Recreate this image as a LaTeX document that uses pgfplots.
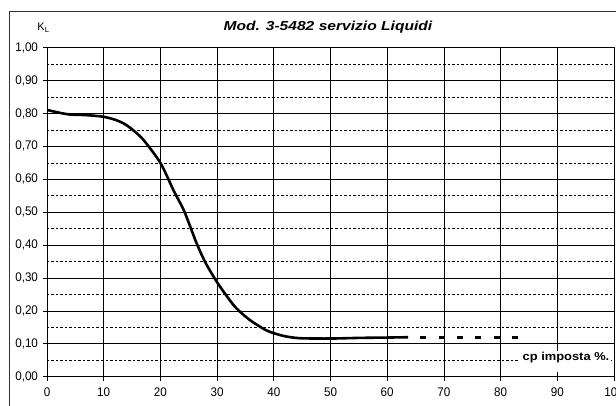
\documentclass[border=0pt]{standalone}
\usepackage{fontspec}
\setmainfont{Liberation Sans}
\newfontfamily\titlefont{Liberation Sans}[FakeStretch=1.2]
\newfontfamily\cpfont{Liberation Sans}[FakeStretch=1.12]
\newfontfamily\tickfont{Liberation Sans}[FakeStretch=0.93]
\usepackage{pgfplots}
\pgfplotsset{compat=1.18}
\begin{document}
\begin{tikzpicture}
\begin{axis}[
  scale only axis, width=567pt, height=329pt,
  at={(0,0)}, anchor=south west,
  xmin=0, xmax=100, ymin=0, ymax=1,
  xtick={0,10,20,30,40,50,60,70,80,90,100},
  ytick={0,0.1,0.2,0.3,0.4,0.5,0.6,0.7,0.8,0.9,1.0},
  extra y ticks={0.05,0.15,0.25,0.35,0.45,0.55,0.65,0.75,0.85,0.95},
  extra y tick labels={},
  extra y tick style={major grid style={black, line width=0.6pt, dash pattern=on 2.5pt off 2pt}, major tick length=0pt},
  grid=major,
  major grid style={black, line width=0.7pt},
  tick align=outside, tick pos=left, major tick length=4.5pt,
  tick style={black, line width=0.7pt},
  axis line style={black, line width=0.8pt},
  /pgf/number format/assume math mode=true,
  ticklabel style={font=\tickfont\fontsize{12.5}{14}\selectfont},
  yticklabel style={xshift=-1pt, /pgf/number format/.cd, fixed, fixed zerofill, precision=2, use comma},
  xticklabel style={yshift=-3pt, /pgf/number format/.cd, fixed, precision=0, 1000 sep={}},
]
\addplot[black, line width=2.6pt, smooth, tension=0.45] coordinates {
(0,0.811) (2,0.803) (4,0.797) (7,0.795) (10,0.790) (12,0.781) (13.5,0.770)
(15,0.752) (17,0.720) (20,0.650) (22.3,0.567) (24.2,0.503) (26.4,0.405)
(28,0.345) (30,0.287) (32,0.238) (33.4,0.208) (35.8,0.172) (38.8,0.140)
(41.7,0.124) (44.6,0.117) (50,0.116) (55.2,0.118) (60,0.119) (63.7,0.120)
};
\addplot[black, line width=2.6pt, dash pattern=on 6pt off 12.3pt, dash phase=6pt] coordinates {(63.7,0.12) (83.3,0.12)};
\end{axis}
\draw[line width=0.8pt, black!80] (-38pt,-40pt) -- (-38pt,365.7pt) -- (700pt,365.7pt);
\fill[white] (473pt,5pt) rectangle (564pt,25.7pt);
\node[anchor=east, inner sep=0pt] at (562.5pt,18.7pt) {\cpfont\bfseries\fontsize{11.5}{13}\selectfont cp imposta \%.};
\node[inner sep=0pt] at (281pt,349.7pt) {\titlefont\bfseries\itshape\fontsize{13}{15}\selectfont Mod. 3-5482 servizio Liquidi};
\node[inner sep=0pt] at (-3.5pt,348.7pt) {\fontsize{11}{12}\selectfont K\textsubscript{L}};
\pgfresetboundingbox
\path[use as bounding box] (-47pt,-28.3pt) rectangle (569pt,376.7pt);
\end{tikzpicture}
\end{document}
